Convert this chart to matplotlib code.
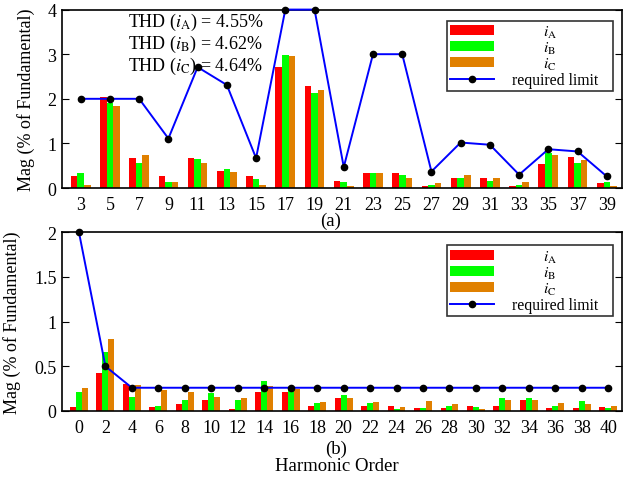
import matplotlib
matplotlib.use('Agg')
import matplotlib.pyplot as plt
import numpy as np

plt.rcParams['font.family'] = 'Liberation Serif'
plt.rcParams['mathtext.fontset'] = 'stix'
plt.rcParams['font.size'] = 13

# odd harmonics, panel (a)
odd_orders = [3, 5, 7, 9, 11, 13, 15, 17, 19, 21, 23, 25, 27, 29, 31, 33, 35, 37, 39]
odd_iA = [0.28, 2.03, 0.67, 0.26, 0.67, 0.39, 0.26, 2.71, 2.28, 0.16,
          0.34, 0.34, 0.05, 0.23, 0.22, 0.05, 0.54, 0.70, 0.11]
odd_iB = [0.33, 1.90, 0.57, 0.13, 0.64, 0.43, 0.21, 2.99, 2.12, 0.13,
          0.34, 0.29, 0.075, 0.23, 0.16, 0.075, 0.79, 0.56, 0.14]
odd_iC = [0.075, 1.84, 0.73, 0.13, 0.55, 0.37, 0.075, 2.97, 2.19, 0.04,
          0.34, 0.23, 0.11, 0.29, 0.23, 0.13, 0.74, 0.62, 0.05]
odd_limit = [2.0, 2.0, 2.0, 1.11, 2.71, 2.31, 0.67, 4.0, 4.0, 0.47,
             3.0, 3.0, 0.37, 1.02, 0.97, 0.30, 0.87, 0.82, 0.26]

# even harmonics, panel (b)
even_orders = list(range(0, 41, 2))
even_iA = [0.05, 0.43, 0.30, 0.05, 0.075, 0.12, 0.02, 0.21, 0.21, 0.056, 0.14,
           0.056, 0.056, 0.037, 0.037, 0.056, 0.056, 0.12, 0.037, 0.037, 0.05]
even_iB = [0.21, 0.66, 0.16, 0.056, 0.12, 0.20, 0.12, 0.34, 0.23, 0.086, 0.18,
           0.086, 0.022, 0.03, 0.056, 0.05, 0.145, 0.145, 0.056, 0.11, 0.03]
even_iC = [0.26, 0.80, 0.29, 0.235, 0.21, 0.16, 0.145, 0.28, 0.25, 0.10, 0.14,
           0.10, 0.05, 0.11, 0.078, 0.022, 0.127, 0.12, 0.086, 0.078, 0.056]
even_limit = [2.0, 0.5] + [0.26] * 19

thd_lines = [r'THD ($i_{\mathrm{A}}$) = 4.55%',
             r'THD ($i_{\mathrm{B}}$) = 4.62%',
             r'THD ($i_{\mathrm{C}}$) = 4.64%']

red = '#ff0000'
green = '#00ff00'
orange = '#e08000'
w = 0.225

fig = plt.figure(figsize=(6.36, 4.81), dpi=100)
ax1 = fig.add_axes([0.0975, 0.607, 0.8805, 0.371])
ax2 = fig.add_axes([0.0975, 0.1435, 0.8805, 0.3715])


def draw(ax, orders, a, b, c, lim, ymax, yticks, ylabels, leg_y):
    x = np.arange(len(orders))
    ax.bar(x - w, a, w, color=red, label=r'$i_{\mathrm{A}}$')
    ax.bar(x, b, w, color=green, label=r'$i_{\mathrm{B}}$')
    ax.bar(x + w, c, w, color=orange, label=r'$i_{\mathrm{C}}$')
    ax.plot(x, lim, color='blue', lw=1.4, marker='o', ms=4.5,
            mfc='black', mec='black', label='required limit', clip_on=False, zorder=5)
    ax.set_xlim(-0.64, len(orders) - 1 + 0.52)
    ax.set_ylim(0, ymax)
    ax.set_xticks(x)
    ax.set_xticklabels([str(o) for o in orders])
    ax.set_yticks(yticks)
    ax.set_yticklabels(ylabels)
    ax.tick_params(axis='x', length=0, pad=6)
    ax.tick_params(axis='y', direction='in', right=True, length=5, pad=4)
    for s in ax.spines.values():
        s.set_linewidth(1.2)
    ax.set_ylabel('Mag (% of Fundamental)', labelpad=9)
    h, l = ax.get_legend_handles_labels()
    h = h[1:] + h[:1]
    l = ['          ' + t for t in l[1:]] + ['  ' + l[0] + '\u00a0\u00a0\u00a0']
    leg = ax.legend(h, l, loc='upper right', bbox_to_anchor=(0.984, leg_y),
                    fontsize=11.3, frameon=True, fancybox=False, edgecolor='black',
                    handlelength=2.8, handleheight=0.6, labelspacing=0.0,
                    borderpad=0.2, handletextpad=0.6, borderaxespad=0)
    leg.get_frame().set_linewidth(1.2)


draw(ax1, odd_orders, odd_iA, odd_iB, odd_iC, odd_limit, 4,
     [0, 1, 2, 3, 4], ['0', '1', '2', '3', '4'], 0.938)
draw(ax2, even_orders, even_iA, even_iB, even_iC, even_limit, 2,
     [0, 0.5, 1, 1.5, 2], ['0', '0.5', '1', '1.5', '2'], 0.927)

for i, t in enumerate(thd_lines):
    ax1.text(0.118, 0.935 - i * 0.125, t, transform=ax1.transAxes,
             fontsize=13, va='center', ha='left')

fig.text(0.520, 0.540, '(a)', ha='center', va='center', fontsize=13.5)
fig.text(0.528, 0.0665, '(b)', ha='center', va='center', fontsize=13.5)
fig.text(0.530, 0.031, 'Harmonic Order', ha='center', va='center', fontsize=13.5)

fig.savefig('out.png', dpi=100)
